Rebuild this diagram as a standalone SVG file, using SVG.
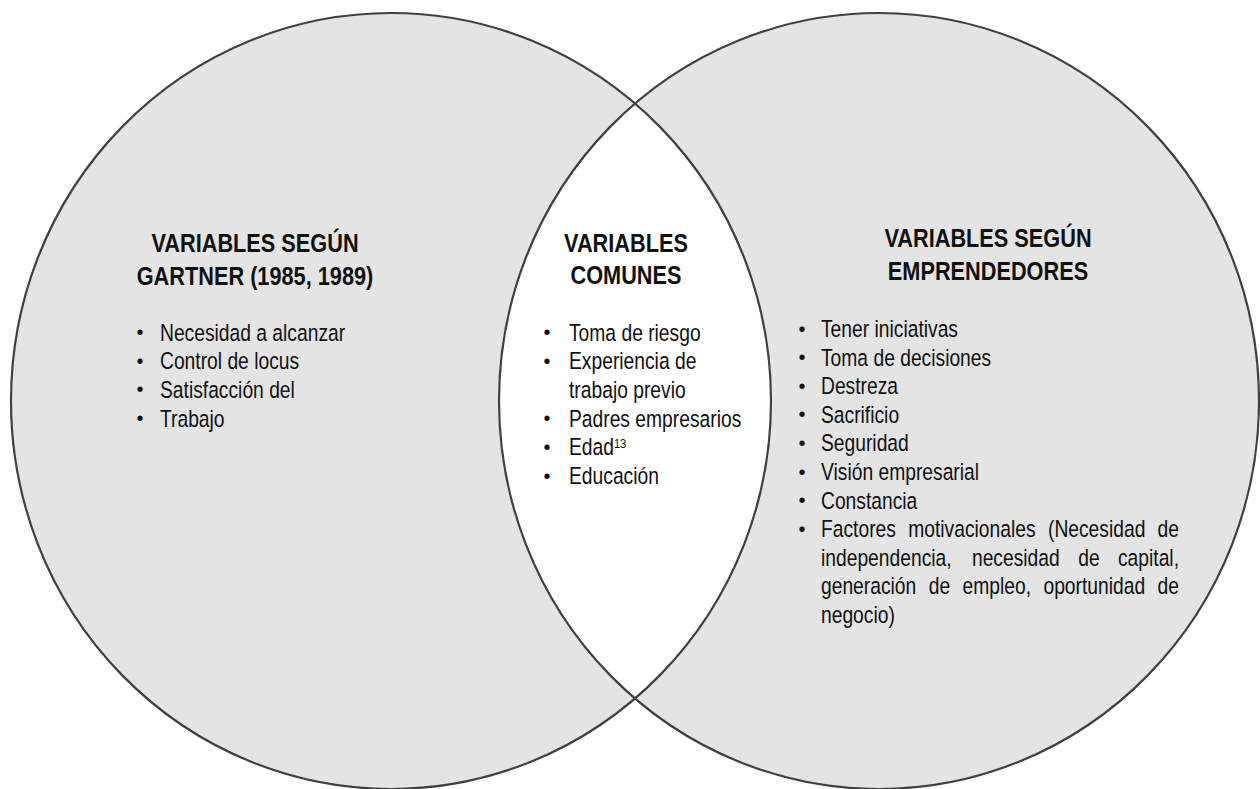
<svg xmlns="http://www.w3.org/2000/svg" width="1260" height="789" viewBox="0 0 1260 789">
<style>
.set{fill:#e4e4e4;stroke:none}
.edge{fill:none;stroke:#404040;stroke-width:2.2}
.h{font-family:"Liberation Sans",Arial,sans-serif;font-size:26.5px;font-weight:bold;fill:#111;text-anchor:middle}
.t{font-family:"Liberation Sans",Arial,sans-serif;font-size:23.5px;fill:#111}
.b{font-family:"Liberation Sans",Arial,sans-serif;font-size:20px;fill:#111;text-anchor:middle}
.sup{font-size:13.5px}
</style>
<defs>
<clipPath id="clipL"><ellipse cx="391" cy="401" rx="380" ry="388"/></clipPath>
</defs>
<g id="shapes">
<ellipse class="set" cx="391" cy="401" rx="380" ry="388"/>
<ellipse class="set" cx="879" cy="401" rx="380" ry="388"/>
<ellipse cx="879" cy="401" rx="380" ry="388" fill="#ffffff" clip-path="url(#clipL)"/>
<ellipse class="edge" cx="391" cy="401" rx="380" ry="388"/>
<ellipse class="edge" cx="879" cy="401" rx="380" ry="388"/>
</g>
<g id="left-set">
<text class="h" transform="translate(255 251.5) scale(0.82 1)">VARIABLES SEGÚN</text>
<text class="h" transform="translate(255 284.5) scale(0.82 1)">GARTNER (1985, 1989)</text>
<text class="b" x="140" y="339">•</text>
<text class="b" x="140" y="367.7">•</text>
<text class="b" x="140" y="396.4">•</text>
<text class="b" x="140" y="425.1">•</text>
<text class="t" transform="translate(160 340.5) scale(0.82 1)">Necesidad a alcanzar</text>
<text class="t" transform="translate(160 369.2) scale(0.82 1)">Control de locus</text>
<text class="t" transform="translate(160 397.9) scale(0.82 1)">Satisfacción del</text>
<text class="t" transform="translate(160 426.6) scale(0.82 1)">Trabajo</text>
</g>
<g id="common-set">
<text class="h" transform="translate(626 251.5) scale(0.82 1)">VARIABLES</text>
<text class="h" transform="translate(626 284) scale(0.82 1)">COMUNES</text>
<text class="b" x="547" y="339">•</text>
<text class="b" x="547" y="367.7">•</text>
<text class="b" x="547" y="425.1">•</text>
<text class="b" x="547" y="453.8">•</text>
<text class="b" x="547" y="482.5">•</text>
<text class="t" transform="translate(569 340.5) scale(0.82 1)">Toma de riesgo</text>
<text class="t" transform="translate(569 369.2) scale(0.82 1)">Experiencia de</text>
<text class="t" transform="translate(569 397.9) scale(0.82 1)">trabajo previo</text>
<text class="t" transform="translate(569 426.6) scale(0.82 1)">Padres empresarios</text>
<text class="t" transform="translate(569 455.3) scale(0.82 1)">Edad<tspan class="sup" dy="-7">13</tspan></text>
<text class="t" transform="translate(569 484) scale(0.82 1)">Educación</text>
</g>
<g id="right-set">
<text class="h" transform="translate(988 247) scale(0.82 1)">VARIABLES SEGÚN</text>
<text class="h" transform="translate(988 279.5) scale(0.82 1)">EMPRENDEDORES</text>
<text class="b" x="802" y="335.5">•</text>
<text class="b" x="802" y="364.1">•</text>
<text class="b" x="802" y="392.7">•</text>
<text class="b" x="802" y="421.3">•</text>
<text class="b" x="802" y="449.9">•</text>
<text class="b" x="802" y="478.5">•</text>
<text class="b" x="802" y="507.1">•</text>
<text class="b" x="802" y="535.7">•</text>
<text class="t" transform="translate(821 337) scale(0.82 1)">Tener iniciativas</text>
<text class="t" transform="translate(821 365.6) scale(0.82 1)">Toma de decisiones</text>
<text class="t" transform="translate(821 394.2) scale(0.82 1)">Destreza</text>
<text class="t" transform="translate(821 422.8) scale(0.82 1)">Sacrificio</text>
<text class="t" transform="translate(821 451.4) scale(0.82 1)">Seguridad</text>
<text class="t" transform="translate(821 480) scale(0.82 1)">Visión empresarial</text>
<text class="t" transform="translate(821 508.6) scale(0.82 1)">Constancia</text>
<text class="t" transform="translate(821 537.2) scale(0.82 1)"><tspan x="0">Factores</tspan><tspan x="106.4">motivacionales</tspan><tspan x="276.8">(Necesidad</tspan><tspan x="410.5">de</tspan></text>
<text class="t" transform="translate(821 565.8) scale(0.82 1)"><tspan x="0">independencia,</tspan><tspan x="184.1">necesidad</tspan><tspan x="313.7">de</tspan><tspan x="362.2">capital,</tspan></text>
<text class="t" transform="translate(821 594.4) scale(0.82 1)"><tspan x="0">generación</tspan><tspan x="131.4">de</tspan><tspan x="172.6">empleo,</tspan><tspan x="271.3">oportunidad</tspan><tspan x="410.5">de</tspan></text>
<text class="t" transform="translate(821 623) scale(0.82 1)">negocio)</text>
</g>
</svg>
